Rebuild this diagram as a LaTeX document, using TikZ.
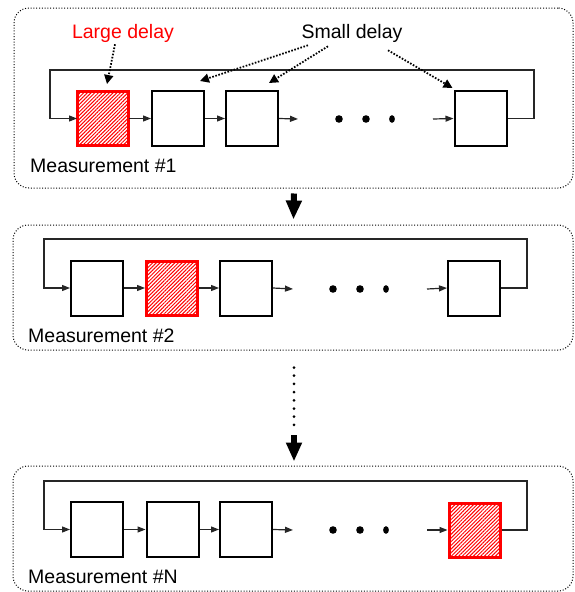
\documentclass[tikz,border=0pt]{standalone}
\usepackage{fontspec}
\setmainfont{Liberation Sans}
\usetikzlibrary{arrows.meta,patterns.meta}

\tikzset{
  panel/.style={draw=black, line width=1pt, dash pattern=on 1pt off 1.8pt,
    rounded corners=15pt, inner sep=0pt},
  cell/.style={draw=black, line width=2pt, minimum width=52pt, minimum height=55pt,
    inner sep=0pt, fill=white},
  hotcell/.style={draw=red, line width=3pt, minimum width=51pt, minimum height=54pt,
    inner sep=0pt, pattern={Lines[angle=45,distance=2.6pt,line width=1pt]},
    pattern color=red},
  wire/.style={draw=black!85, line width=1.2pt},
  arr/.style={wire, -{Triangle[length=8pt,width=6pt]}},
  pointer/.style={line width=1.8pt, dash pattern=on 1.6pt off 1.6pt,
    -{Triangle[length=9pt,width=9pt]}},
  bigarrow/.style={line width=6pt, -{Triangle[length=19pt,width=15pt]}},
  lbl/.style={font=\fontsize{19.5}{22}\selectfont, inner sep=0pt},
  dotline/.style={line width=3pt, line cap=round, dash pattern=on 0pt off 8.2pt}
}

\begin{document}
\begin{tikzpicture}[x=1pt,y=-1pt]
\useasboundingbox (0,0) rectangle (574,592);

% ---------- panels ----------
\node[panel, minimum width=559pt, minimum height=180pt] (p1) at (293.5,98) {};
\node[panel, minimum width=560pt, minimum height=125pt] (p2) at (293,287.5) {};
\node[panel, minimum width=560pt, minimum height=125pt] (p3) at (293,528.5) {};

% ---------- measurement 1 ----------
\node[hotcell] (a1) at (103,118.5) {};
\node[cell] (a2) at (178,118.5) {};
\node[cell] (a3) at (252,118.5) {};
\node[cell] (a4) at (480.5,118.5) {};
\coordinate (a3o) at (298,119);
\coordinate (a4i) at (433,119);
\coordinate (ar) at (534,70);
\coordinate (al) at (50,70);
\draw[arr] (a1.east) -- (a2.west);
\draw[arr] (a2.east) -- (a3.west);
\draw[arr] (a3.east) -- (a3o);
\draw[arr] (a4i) -- (a4.west);
\draw[arr] (a4.east) -| (ar) -- (al) |- (a1.west);
\fill (339,119) circle (3.8pt) (366,119) circle (3.8pt);
\fill (392,119) ellipse (2.9pt and 3.8pt);

\node[lbl, text=red] (large) at (123,33) {Large delay};
\node[lbl] (small) at (352,33) {Small delay};
\draw[pointer] ([xshift=-8pt,yshift=-2pt]large.south) -- ([xshift=4pt,yshift=7pt]a1.north);
\draw[pointer] ([xshift=-44pt,yshift=-3pt]small.south) -- ([xshift=22pt,yshift=9pt]a2.north);
\draw[pointer] ([xshift=-24pt,yshift=-4pt]small.south) -- ([xshift=17pt,yshift=7pt]a3.north);
\draw[pointer] ([xshift=36pt,yshift=-8pt]small.south) -- ([xshift=-1pt,yshift=2pt]a4.north west);

\node[lbl, anchor=west] (m1) at (30,166) {Measurement \#1};

% ---------- measurement 2 ----------
\node[cell] (b1) at (97,288) {};
\node[hotcell] (b2) at (172,288) {};
\node[cell] (b3) at (246,288) {};
\node[cell] (b4) at (474,288) {};
\coordinate (b3o) at (293,289);
\coordinate (b4i) at (427,289);
\coordinate (br) at (527,239);
\coordinate (bl) at (44,239);
\draw[arr] (b1.east) -- (b2.west);
\draw[arr] (b2.east) -- (b3.west);
\draw[arr] (b3.east) -- (b3o);
\draw[arr] (b4i) -- (b4.west);
\draw[arr] (b4.east) -| (br) -- (bl) |- (b1.west);
\fill (333,289) circle (3.8pt) (360,289) circle (3.8pt);
\fill (386,289) ellipse (2.9pt and 3.8pt);

\node[lbl, anchor=west] (m2) at (28,336) {Measurement \#2};

% ---------- measurement N ----------
\node[cell] (c1) at (97,529.5) {};
\node[cell] (c2) at (172.5,529.5) {};
\node[cell] (c3) at (246,529.5) {};
\node[hotcell] (c4) at (474.5,530) {};
\coordinate (c3o) at (293,530);
\coordinate (c4i) at (427,530);
\coordinate (cr) at (527,481);
\coordinate (cl) at (44,481);
\draw[arr] (c1.east) -- (c2.west);
\draw[arr] (c2.east) -- (c3.west);
\draw[arr] (c3.east) -- (c3o);
\draw[arr] (c4i) -- (c4.west);
\draw[arr] (c4.east) -| (cr) -- (cl) |- (c1.west);
\fill (333,530) circle (3.8pt) (360,530) circle (3.8pt);
\fill (386,530) ellipse (2.9pt and 3.8pt);

\node[lbl, anchor=west] (m3) at (28,577) {Measurement \#N};

% ---------- flow between measurements ----------
\coordinate (gap) at (294,430);
\draw[bigarrow] ([xshift=0.5pt]p1.south) ++(0,5) -- ([xshift=0.5pt,yshift=5pt]p2.north);
\draw[dotline] ([xshift=1pt]p2.south) ++(0,17) -- ([yshift=5pt]gap);
\draw[bigarrow] (gap) ++(0,5) -- ([xshift=1pt,yshift=4pt]p3.north);
\end{tikzpicture}
\end{document}
